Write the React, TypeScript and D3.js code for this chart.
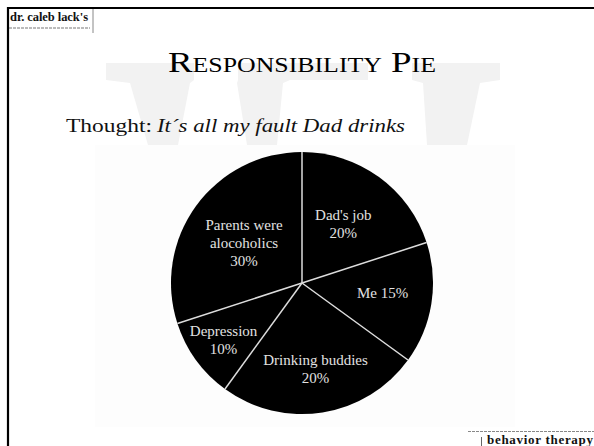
import React from "react";
import * as d3 from "d3";

const categories = ["Dad's job", "Me", "Drinking buddies", "Depression", "Parents were alocoholics"];
// slice shares as drawn (angles)
const shares = [20, 15, 25, 10, 30];
// percentages printed on the slices
const labelPercents = ["20%", "15%", "20%", "10%", "30%"];
const labelLines = [
  ["Dad's job", "20%"],
  ["Me 15%"],
  ["Drinking buddies", "20%"],
  ["Depression", "10%"],
  ["Parents were", "alocoholics", "30%"],
];

const W = 594;
const H = 446;
const cx = 302;
const cy = 283;
const R = 131;
// label placement: radius factor and angle nudge (degrees)
const labelPlace = [
  { r: 0.55, da: -1 },
  { r: 0.62, da: -2 },
  { r: 0.66, da: 0 },
  { r: 0.74, da: 0 },
  { r: 0.54, da: -1 },
];

const serif = "'Liberation Serif', 'DejaVu Serif', serif";

export default function App() {
  const pie = d3.pie<number>().sort(null).value((d) => d);
  const arcs = pie(shares);
  const arcGen = d3.arc<d3.PieArcDatum<number>>().innerRadius(0).outerRadius(R);
  const lineH = 18;

  return (
    <svg width={W} height={H} style={{ position: "absolute", left: 0, top: 0, background: "#fff" }}>
      <rect x={0} y={0} width={W} height={H} fill="#fff" />
      {/* watermark */}
      <g fill="#f2f2f2">
        <path d="M106,63 L194,63 L194,80 L190,83 L178,145 L148,145 L130,83 L106,80 Z" />
        <path d="M238,63 L368,63 L368,80 L290,80 L283,83 L277,145 L247,145 L237,83 L238,80 Z" />
        <path d="M412,63 L500,63 L500,80 L480,83 L467,145 L427,145 L423,83 L412,80 Z" />
      </g>
      <rect x={95} y={145} width={420} height={282} fill="#fdfdfd" />
      {/* frame */}
      <line x1={8} y1={7} x2={8} y2={H} stroke="#000" strokeWidth={2.2} />
      <line x1={7} y1={8} x2={W} y2={8} stroke="#000" strokeWidth={2.2} />
      <text x={10} y={21} fontFamily={serif} fontWeight="bold" fontSize={12.5} fill="#111" textLength={78} lengthAdjust="spacing">dr. caleb lack's</text>
      <line x1={9} y1={28} x2={90} y2={28} stroke="#777" strokeWidth={1} strokeDasharray="3 1" />
      <line x1={93} y1={9} x2={93} y2={33} stroke="#888" strokeWidth={1} />
      {/* title */}
      <text x={168} y={72} fontFamily={serif} fontSize={30} style={{ fontVariant: "small-caps" }} fill="#000" textLength={268} lengthAdjust="spacingAndGlyphs">
        Responsibility Pie
      </text>
      <text x={66} y={132} fontFamily={serif} fontSize={18} fill="#111" textLength={86} lengthAdjust="spacingAndGlyphs">
        Thought:
      </text>
      <text x={157} y={132} fontFamily={serif} fontSize={18} fontStyle="italic" fill="#111" textLength={248} lengthAdjust="spacingAndGlyphs">
        It´s all my fault Dad drinks
      </text>
      {/* pie */}
      <g transform={`translate(${cx},${cy})`}>
        {arcs.map((a, i) => (
          <path key={categories[i]} d={arcGen(a) || ""} fill="#000" />
        ))}
        {arcs.map((a, i) => {
          const [x, y] = d3.pointRadial(a.startAngle, R);
          return <line key={"s" + i} x1={0} y1={0} x2={x} y2={y} stroke="#dcdcdc" strokeWidth={1.5} />;
        })}
        {arcs.map((a, i) => {
          const mid = (a.startAngle + a.endAngle) / 2 + (labelPlace[i].da * Math.PI) / 180;
          const [x, y] = d3.pointRadial(mid, R * labelPlace[i].r);
          const lines = labelLines[i];
          const y0 = y - ((lines.length - 1) * lineH) / 2;
          return (
            <text key={"l" + i} textAnchor="middle" fontFamily={serif} fontSize={15} fill="#e2e2e2" data-pct={labelPercents[i]}>
              {lines.map((t, j) => (
                <tspan key={j} x={x} y={y0 + j * lineH} dy="0.35em">{t}</tspan>
              ))}
            </text>
          );
        })}
      </g>
      {/* footer */}
      <line x1={468} y1={431.5} x2={W} y2={431.5} stroke="#888" strokeWidth={1} strokeDasharray="3 1" />
      <line x1={481.5} y1={437} x2={481.5} y2={446} stroke="#666" strokeWidth={1} />
      <text x={487} y={444} fontFamily={serif} fontWeight="bold" fontSize={13} fill="#111" textLength={106} lengthAdjust="spacing">behavior therapy</text>
    </svg>
  );
}
